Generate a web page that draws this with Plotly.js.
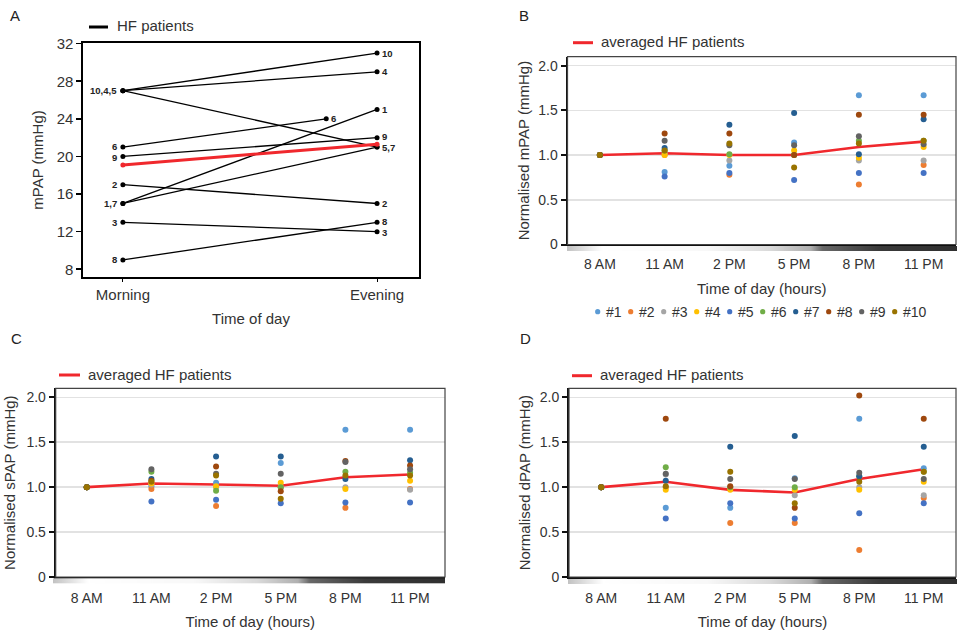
<!DOCTYPE html>
<html>
<head>
<meta charset="utf-8">
<script src="https://cdn.plot.ly/plotly-3.0.1.min.js"></script>
<style>
  html, body { margin: 0; padding: 0; background: #fff; }
  #chart { width: 957px; height: 630px; }
</style>
</head>
<body>
<div id="chart"></div>
<script>
// ---------- Panel A: mPAP morning vs evening per patient ----------
const patientIds   = ['1', '2', '3', '4', '5', '6', '7', '8', '9', '10'];
const mpapMorning  = [15, 17, 13, 27, 27, 21, 15, 9, 20, 27];
const mpapEvening  = [25, 15, 12, 29, 21, 24, 21, 13, 22, 31];
const eveningTime  = [1, 1, 1, 1, 1, 0.8, 1, 1, 1, 1];   // patient 6 measured earlier in the evening
const mpapAverage  = [19.1, 21.3];
const dayParts     = ['Morning', 'Evening'];
const mpapTicks    = [8, 12, 16, 20, 24, 28, 32];

// ---------- Panels B-D: normalised pressures over the day ----------
const timeLabels   = ['8 AM', '11 AM', '2 PM', '5 PM', '8 PM', '11 PM'];
const patientNames = ['#1', '#2', '#3', '#4', '#5', '#6', '#7', '#8', '#9', '#10'];
const patientColors = ['#5B9BD5', '#ED7D31', '#A5A5A5', '#FFC000', '#4472C4',
                       '#70AD47', '#255E91', '#9E480E', '#636363', '#997300'];

const mpapNormByPatient = [
  [1.0, 0.81, 0.88, 1.14, 1.67, 1.67],
  [1.0, 1.00, 0.78, 1.00, 0.67, 0.89],
  [1.0, 1.02, 0.94, 1.00, 0.94, 0.94],
  [1.0, 1.00, 1.00, 1.05, 0.97, 1.09],
  [1.0, 0.76, 0.80, 0.72, 0.80, 0.80],
  [1.0, 1.05, 1.01, 1.00, 1.16, 1.16],
  [1.0, 1.08, 1.34, 1.47, 1.01, 1.40],
  [1.0, 1.24, 1.24, 1.00, 1.45, 1.45],
  [1.0, 1.16, 1.11, 1.11, 1.21, 1.12],
  [1.0, 1.05, 1.13, 0.86, 1.13, 1.16]
];
const mpapNormAverage = [1.0, 1.02, 1.0, 1.0, 1.09, 1.15];

const spapNormByPatient = [
  [1.0, 1.01, 1.05, 1.27, 1.64, 1.64],
  [1.0, 0.98, 0.79, 1.00, 0.77, 0.98],
  [1.0, 1.03, 1.00, 1.00, 1.00, 0.97],
  [1.0, 1.04, 1.01, 1.05, 0.98, 1.07],
  [1.0, 0.84, 0.86, 0.82, 0.83, 0.83],
  [1.0, 1.17, 0.96, 1.00, 1.17, 1.16],
  [1.0, 1.09, 1.34, 1.34, 1.09, 1.30],
  [1.0, 1.07, 1.23, 0.955, 1.29, 1.24],
  [1.0, 1.20, 1.15, 1.15, 1.28, 1.20],
  [1.0, 1.06, 1.13, 0.87, 1.13, 1.13]
];
const spapNormAverage = [1.0, 1.04, 1.03, 1.015, 1.11, 1.14];

const dpapNormByPatient = [
  [1.0, 0.77, 0.77, 1.10, 1.76, 1.21],
  [1.0, 1.00, 0.60, 0.60, 0.30, 0.88],
  [1.0, 1.14, 1.00, 0.91, 1.00, 0.91],
  [1.0, 0.97, 0.97, 0.97, 0.97, 1.06],
  [1.0, 0.65, 0.82, 0.65, 0.71, 0.82],
  [1.0, 1.22, 1.00, 1.00, 1.12, 1.17],
  [1.0, 1.07, 1.45, 1.57, 1.12, 1.45],
  [1.0, 1.76, 1.01, 0.77, 2.02, 1.76],
  [1.0, 1.15, 1.09, 1.09, 1.16, 1.09],
  [1.0, 1.01, 1.17, 0.82, 1.06, 1.17]
];
const dpapNormAverage = [1.0, 1.06, 0.97, 0.94, 1.09, 1.20];

const normTicks     = [0, 0.5, 1, 1.5, 2];
const normTickText  = ['0', '0.5', '1.0', '1.5', '2.0'];

// ---------- helpers ----------
const W = 957, H = 630;
const FONT = 'Liberation Sans, Arial, Helvetica, sans-serif';
const TXT = '#333';
const RED = '#f0282d';
const px = x => x / W;
const py = y => 1 - y / H;
const dom = (a, b) => [a / W, b / W];
const domY = (top, bottom) => [1 - bottom / H, 1 - top / H];

// panel A vertical geometry (used to keep neighbouring point labels apart)
const A_TOP = 43, A_BOTTOM = 277, A_RANGE = [7.18, 32.07];
const aPxPerUnit = (A_BOTTOM - A_TOP) / (A_RANGE[1] - A_RANGE[0]);

// grey-to-dark strip showing the day turning into night
function dayNightStrip() {
  const c = document.createElement('canvas');
  c.width = 400; c.height = 4;
  const g = c.getContext('2d');
  const grad = g.createLinearGradient(0, 0, 400, 0);
  [[0, '#c2c2c2'], [0.05, '#e4e4e4'], [0.09, '#ffffff'], [0.36, '#f8f8f8'],
   [0.52, '#dadada'], [0.625, '#b0b0b0'], [0.655, '#686868'], [0.8, '#3a3a3a'], [1, '#303030']]
    .forEach(([o, col]) => grad.addColorStop(o, col));
  g.fillStyle = grad;
  g.fillRect(0, 0, 400, 4);
  return c.toDataURL('image/png');
}
const strip = dayNightStrip();

const traces = [];

// Panel A lines
patientIds.forEach((id, i) => {
  traces.push({
    type: 'scatter', mode: 'lines+markers',
    x: [0, eveningTime[i]], y: [mpapMorning[i], mpapEvening[i]],
    xaxis: 'x', yaxis: 'y',
    line: { color: '#000', width: 1.3 },
    marker: { color: '#000', size: 5 },
    name: 'Patient ' + id, showlegend: false
  });
});
traces.push({
  type: 'scatter', mode: 'lines+markers',
  x: [0, 1], y: mpapAverage, xaxis: 'x', yaxis: 'y',
  line: { color: RED, width: 3 }, marker: { color: RED, size: 5 },
  name: 'averaged HF patients', showlegend: false
});

// Panels B, C, D
const panels = [
  { ax: '2', byPatient: mpapNormByPatient, avg: mpapNormAverage },
  { ax: '3', byPatient: spapNormByPatient, avg: spapNormAverage },
  { ax: '4', byPatient: dpapNormByPatient, avg: dpapNormAverage }
];
panels.forEach(p => {
  traces.push({
    type: 'scatter', mode: 'lines', x: timeLabels, y: p.avg,
    xaxis: 'x' + p.ax, yaxis: 'y' + p.ax,
    line: { color: RED, width: 2.6 }, name: 'averaged HF patients', showlegend: false
  });
  p.byPatient.forEach((vals, i) => {
    traces.push({
      type: 'scatter', mode: 'markers', x: timeLabels, y: vals,
      xaxis: 'x' + p.ax, yaxis: 'y' + p.ax,
      marker: { color: patientColors[i], size: 6 },
      name: patientNames[i], showlegend: false
    });
  });
});

// Panel A point labels, grouped where patients share a value
const annotations = [];
function groupLabels(xs, ys, other, side) {
  const groups = {};
  patientIds.forEach((id, i) => {
    const key = xs[i] + '|' + ys[i];
    (groups[key] = groups[key] || []).push(i);
  });
  const labels = Object.values(groups).map(idx => {
    idx.sort((a, b) => other[b] - other[a]);
    return { x: xs[idx[0]], y: ys[idx[0]], text: idx.map(i => patientIds[i]).join(','), shift: 0 };
  });
  // nudge labels on the same vertical line that would touch
  const MIN_GAP = 11;
  labels.sort((a, b) => b.y - a.y);
  for (let k = 1; k < labels.length; k++) {
    const a = labels[k - 1], b = labels[k];
    if (a.x !== b.x) continue;
    const gap = (a.y - b.y) * aPxPerUnit;
    if (gap < MIN_GAP) {
      const d = (MIN_GAP - gap) / 2;
      a.shift += d; b.shift -= d;
    }
  }
  labels.forEach(l => {
    annotations.push({
      xref: 'x', yref: 'y', x: l.x, y: l.y, yshift: l.shift,
      text: l.text, borderpad: 0,
      showarrow: false, xanchor: side === 'left' ? 'right' : 'left',
      xshift: side === 'left' ? -5 : 4,
      font: { family: FONT, size: 9.5, color: '#222', weight: 'bold' }
    });
  });
}
groupLabels(patientIds.map(() => 0), mpapMorning, mpapEvening, 'left');
groupLabels(eveningTime, mpapEvening, mpapMorning, 'right');

// panel letters
[['A', 8, 15], ['B', 517, 15], ['C', 9, 338], ['D', 518, 338]].forEach(([t, x, y]) => {
  annotations.push({ xref: 'paper', yref: 'paper', x: px(x), y: py(y), text: t,
    showarrow: false, xanchor: 'left', yanchor: 'middle',
    font: { family: FONT, size: 15, color: '#222' } });
});

// series keys (line + label)
const shapes = [];
const keys = [
  { x0: 89, x1: 108, y: 27, color: '#000', text: 'HF patients', tx: 115 },
  { x0: 573, x1: 593, y: 42.7, color: RED, text: 'averaged HF patients', tx: 599 },
  { x0: 59, x1: 80, y: 375, color: RED, text: 'averaged HF patients', tx: 86 },
  { x0: 572, x1: 592, y: 375.7, color: RED, text: 'averaged HF patients', tx: 598 }
];
keys.forEach(k => {
  shapes.push({ type: 'line', xref: 'paper', yref: 'paper',
    x0: px(k.x0), x1: px(k.x1), y0: py(k.y), y1: py(k.y),
    line: { color: k.color, width: 3 } });
  annotations.push({ xref: 'paper', yref: 'paper', x: px(k.tx), y: py(k.y - 1),
    text: k.text, showarrow: false, xanchor: 'left', yanchor: 'middle',
    font: { family: FONT, size: 15, color: TXT } });
});

// patient key under panel B
patientNames.forEach((n, i) => {
  const cx = 597.7 + i * 33.0, cy = 311.7, r = 2.6;
  shapes.push({ type: 'circle', xref: 'paper', yref: 'paper',
    x0: px(cx - r), x1: px(cx + r), y0: py(cy + r), y1: py(cy - r),
    fillcolor: patientColors[i], line: { width: 0 } });
  annotations.push({ xref: 'paper', yref: 'paper', x: px(cx + 6), y: py(cy),
    text: n, showarrow: false, xanchor: 'left', yanchor: 'middle',
    font: { family: FONT, size: 14, color: TXT } });
});

// frames around panels B-D
const frames = [
  [567.5, 56.7, 956, 244.5],
  [55.7, 388.3, 445, 577],
  [569, 388.3, 956, 577]
];
frames.forEach(([x0, y0, x1, y1]) => {
  shapes.push({ type: 'rect', xref: 'paper', yref: 'paper',
    x0: px(x0), x1: px(x1), y0: py(y1), y1: py(y0),
    line: { color: '#444', width: 1.2 }, layer: 'above' });
});

// day/night strips beneath the time axes
const images = [
  [567, 246, 957], [53, 578.3, 445], [568, 579, 957]
].map(([x0, y0, x1]) => ({
  source: strip, xref: 'paper', yref: 'paper',
  x: px(x0), y: py(y0), sizex: (x1 - x0) / W, sizey: 5 / H,
  xanchor: 'left', yanchor: 'top', sizing: 'stretch', layer: 'above'
}));

const tickFontA = { family: FONT, size: 15, color: TXT };
const tickFont = { family: FONT, size: 14, color: TXT };
const titleFont = { family: FONT, size: 15, color: TXT };

function timeAxis(domain, range, anchor, labelGap, titleGap) {
  return {
    domain, range, anchor, type: 'category',
    showline: true, linecolor: '#111', linewidth: 1.6,
    ticks: '', showgrid: false, zeroline: false,
    tickfont: tickFont, ticklabelstandoff: labelGap,
    title: { text: 'Time of day (hours)', font: titleFont, standoff: titleGap }
  };
}
function normAxis(domain, anchor, title, titleGap) {
  return {
    domain, anchor, range: [0, 2.1],
    tickvals: normTicks, ticktext: normTickText,
    showline: true, linecolor: '#111', linewidth: 2,
    ticks: 'outside', ticklen: 5, tickwidth: 2, tickcolor: '#111',
    showgrid: true, gridcolor: '#e2e2e2', gridwidth: 1.5, zeroline: false,
    tickfont: tickFont,
    title: { text: title, font: titleFont, standoff: titleGap }
  };
}

const layout = {
  width: W, height: H,
  margin: { l: 0, r: 0, t: 0, b: 0 },
  paper_bgcolor: '#fff', plot_bgcolor: '#fff',
  showlegend: false,
  font: { family: FONT, color: TXT },
  xaxis: {
    domain: dom(83, 419), range: [-0.157, 1.165], anchor: 'y',
    tickvals: [0, 1], ticktext: dayParts,
    showline: true, mirror: true, linecolor: '#000', linewidth: 1.6,
    ticks: 'outside', ticklen: 3, tickcolor: '#000',
    showgrid: false, zeroline: false, tickfont: tickFontA,
    title: { text: 'Time of day', font: titleFont, standoff: 12 }
  },
  yaxis: {
    domain: domY(A_TOP, A_BOTTOM), range: A_RANGE, anchor: 'x',
    tickvals: mpapTicks,
    showline: true, mirror: true, linecolor: '#000', linewidth: 1.6,
    ticks: 'outside', ticklen: 5, tickwidth: 1.6, tickcolor: '#000',
    showgrid: false, zeroline: false, tickfont: tickFontA,
    title: { text: 'mPAP (mmHg)', font: titleFont, standoff: 9 }
  },
  xaxis2: timeAxis(dom(567.5, 956), [-0.5, 5.5], 'y2', 6, 12),
  yaxis2: normAxis(domY(56.7, 244.5), 'x2', 'Normalised mPAP (mmHg)', 5),
  xaxis3: timeAxis(dom(55.7, 445), [-0.48, 5.54], 'y3', 8, 14),
  yaxis3: normAxis(domY(388.3, 577), 'x3', 'Normalised sPAP (mmHg)', 7),
  xaxis4: timeAxis(dom(569, 956), [-0.5, 5.5], 'y4', 8, 14),
  yaxis4: normAxis(domY(388.3, 577), 'x4', 'Normalised dPAP (mmHg)', 5),
  annotations, shapes, images
};

Plotly.newPlot('chart', traces, layout, { staticPlot: true, displayModeBar: false });
</script>
</body>
</html>
